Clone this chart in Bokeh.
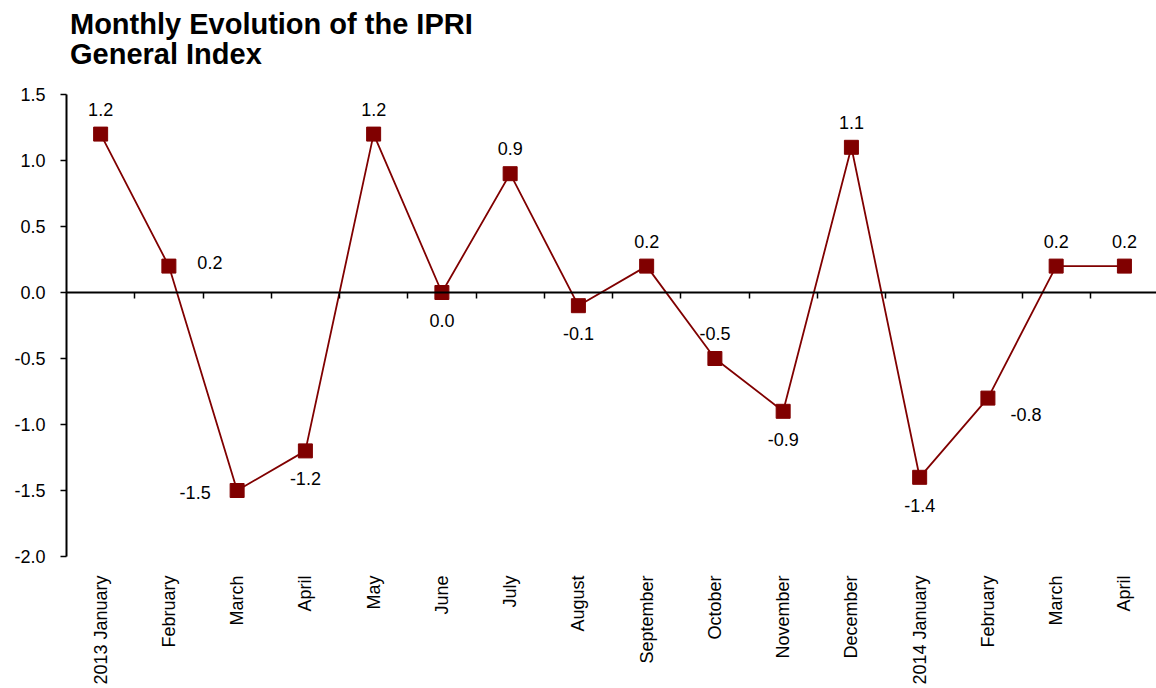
import math
from bokeh.plotting import figure
from bokeh.layouts import column
from bokeh.models import (ColumnDataSource, Range1d, LinearAxis, FixedTicker,
                          NumeralTickFormatter, CustomJSTickFormatter, Div)
from bokeh.core.properties import value
from bokeh.embed import file_html
from bokeh.resources import INLINE

# ---- data ----
months = ["2013 January", "February", "March", "April", "May", "June", "July",
          "August", "September", "October", "November", "December",
          "2014 January", "February", "March", "April"]
ipri = [1.2, 0.2, -1.5, -1.2, 1.2, 0.0, 0.9, -0.1, 0.2, -0.5, -0.9, 1.1,
        -1.4, -0.8, 0.2, 0.2]
label_side = ["above", "right", "left", "below", "above", "below", "above",
              "below", "above", "above", "below", "above", "below",
              "right_low", "above", "above"]
y_ticks = [-2.0, -1.5, -1.0, -0.5, 0.0, 0.5, 1.0, 1.5]
title_lines = ["Monthly Evolution of the IPRI", "General Index"]

# ---- styling ----
FONT = "Liberation Sans"
RED = "#800000"
FS = "18px"
TITLE_H = 70
OFFSETS = {"above": (0, -25), "below": (0, 28), "left": (-42, 2),
           "right": (41, -4), "right_low": (38, 16)}

xs = list(range(len(months)))
src = ColumnDataSource(dict(
    x=xs, y=ipri, lab=[f"{v:.1f}" for v in ipri],
    dx=[OFFSETS[s][0] for s in label_side],
    dy=[OFFSETS[s][1] for s in label_side],
))

title_div = Div(
    text=('<div style="padding:9px 0 0 70px; font-family:\'Liberation Sans\';'
          ' font-size:29px; font-weight:bold; line-height:30px; color:black;'
          ' white-space:nowrap;">' + "<br>".join(title_lines) + "</div>"),
    width=1156, height=TITLE_H, margin=(0, 0, 0, 0))

p = figure(frame_width=1090, frame_height=462,
           x_range=Range1d(-0.5, 15.47), y_range=Range1d(-2.0, 1.5),
           output_backend="svg", toolbar_location=None,
           min_border_left=66, min_border_right=0, min_border_top=94 - TITLE_H,
           min_border_bottom=132, margin=(0, 0, 0, 0))
p.grid.visible = False
p.outline_line_color = None
p.background_fill_color = "white"
p.border_fill_color = "white"

# bottom category labels
xa = p.xaxis[0]
xa.ticker = FixedTicker(ticks=xs)
xa.major_label_overrides = {i: m for i, m in enumerate(months)}
xa.major_label_orientation = math.pi / 2
xa.axis_line_color = None
xa.major_tick_line_color = None
xa.minor_tick_line_color = None
xa.major_tick_out = 0
xa.major_tick_in = 0
xa.major_label_standoff = 19
xa.major_label_text_font = FONT
xa.major_label_text_font_size = FS
xa.major_label_text_color = "black"

# zero line axis with boundary ticks
zax = LinearAxis(fixed_location=0,
                 ticker=FixedTicker(ticks=[i + 0.5 for i in range(len(months) - 1)]),
                 formatter=CustomJSTickFormatter(code="return ''"))
zax.axis_line_width = 2
zax.axis_line_color = "black"
zax.major_tick_out = 6
zax.major_tick_in = 0
zax.major_tick_line_width = 1.5
zax.minor_tick_line_color = None
p.add_layout(zax, "below")

# y axis
ya = p.yaxis[0]
ya.ticker = FixedTicker(ticks=y_ticks)
ya.formatter = NumeralTickFormatter(format="0.0")
ya.axis_line_width = 2
ya.axis_line_color = "black"
ya.major_tick_out = 6
ya.major_tick_in = 0
ya.major_tick_line_width = 1.5
ya.minor_tick_line_color = None
ya.major_label_standoff = 15
ya.major_label_text_font = FONT
ya.major_label_text_font_size = FS
ya.major_label_text_color = "black"

p.line("x", "y", source=src, line_color=RED, line_width=1.8)
p.scatter("x", "y", source=src, marker="square", size=14,
          fill_color=RED, line_color=RED)
p.text("x", "y", text="lab", source=src, x_offset="dx", y_offset="dy",
       text_align="center", text_baseline="middle",
       text_font=value(FONT), text_font_size=FS, text_color="black")

layout = column(title_div, p, spacing=0)
open("out.html", "w").write(file_html(layout, INLINE))
